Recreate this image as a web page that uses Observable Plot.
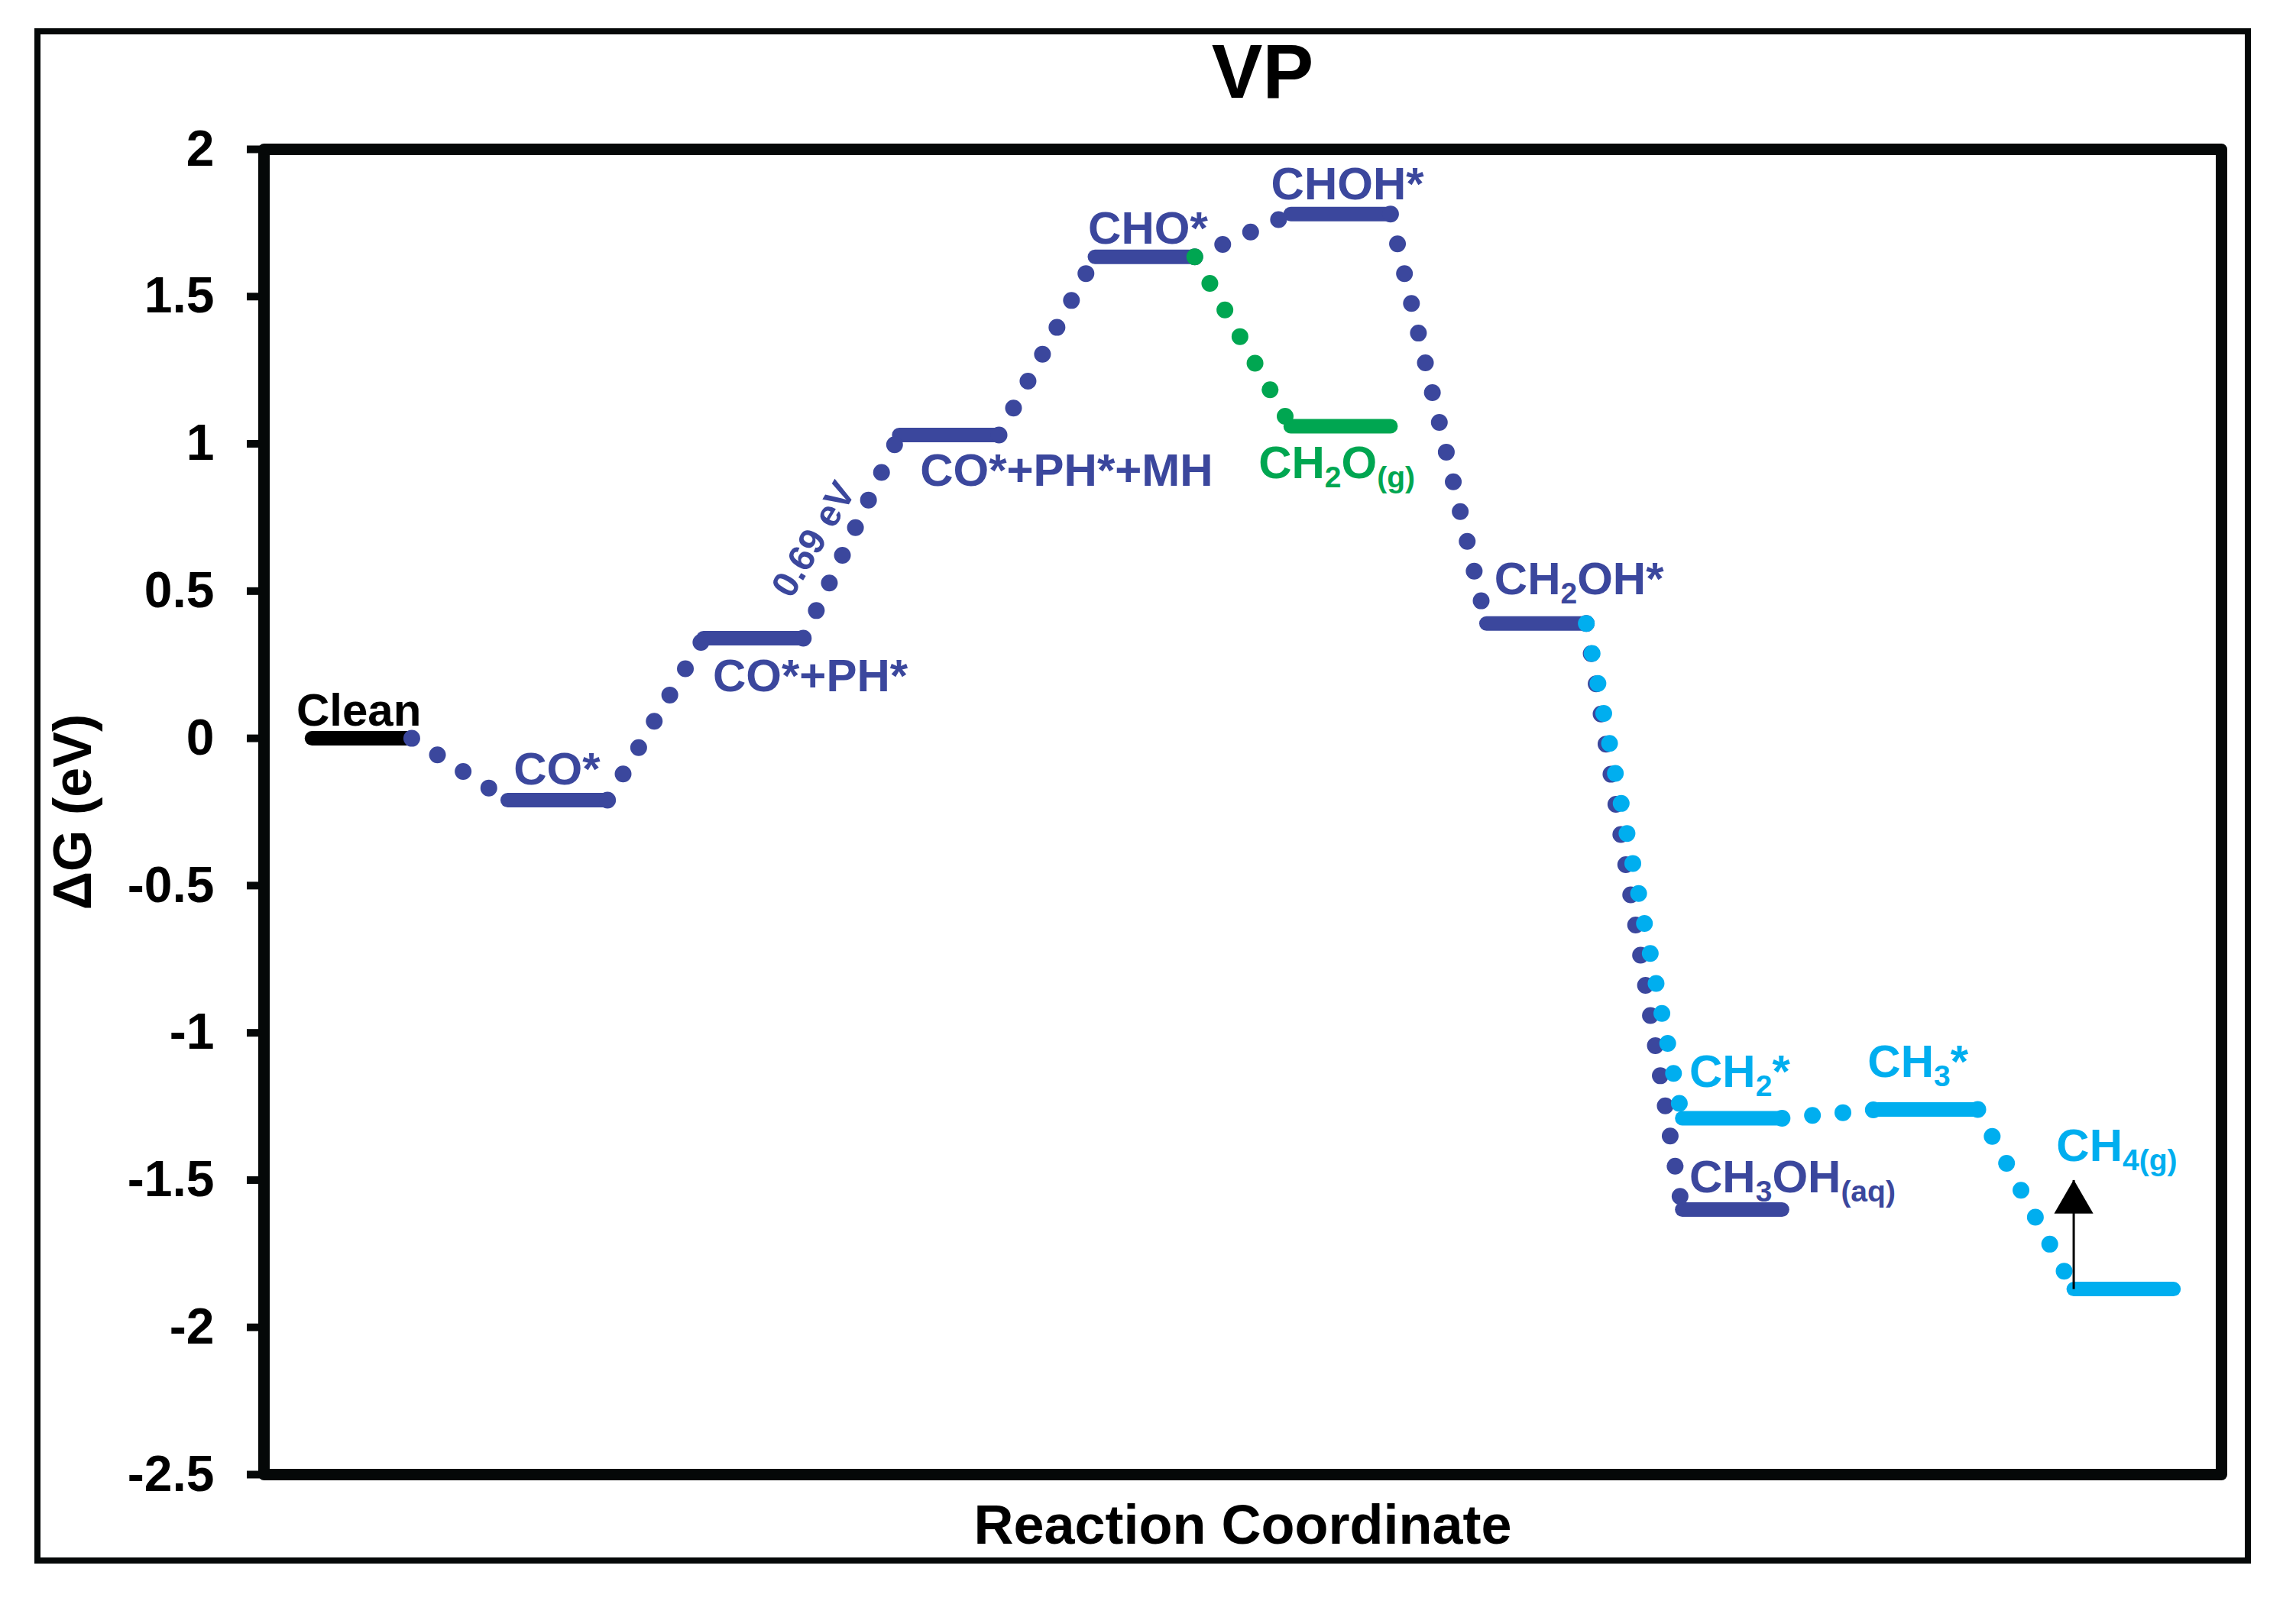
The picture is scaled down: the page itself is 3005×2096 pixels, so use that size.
<!DOCTYPE html>
<html>
<head>
<meta charset="utf-8">
<script src="https://cdn.jsdelivr.net/npm/d3@7"></script>
<script src="https://cdn.jsdelivr.net/npm/@observablehq/plot@0.6"></script>
<style>
html, body { margin: 0; padding: 0; background: #fff; }
#wrap { position: relative; width: 3005px; height: 2096px; overflow: hidden; font-family: "Liberation Sans", Arial, sans-serif; }
#title { height: 145px; box-sizing: border-box; padding-top: 36px; padding-left: 300px; text-align: center; font-size: 100px; font-weight: bold; line-height: normal; color: #000; }
#frame { position: absolute; left: 45px; top: 37px; width: 2901px; height: 2010px; border: 8px solid #050808; box-sizing: border-box; pointer-events: none; }
#chart svg { display: block; }
</style>
</head>
<body>
<div id="wrap">
  <div id="title">VP</div>
  <div id="chart"></div>
  <div id="frame"></div>
</div>
<script>
// ---------------- data ----------------
const steps      = ["Clean", "CO*", "CO*+PH*", "CO*+PH*+MH", "CHO*", "CHOH*", "CH2O(g)", "CH2OH*", "CH2*", "CH3OH(aq)", "CH3*", "CH4(g)"];
const stepIndex  = [0, 1, 2, 3, 4, 5, 5, 6, 7, 7, 8, 9];
const deltaG     = [0, -0.21, 0.34, 1.03, 1.635, 1.78, 1.06, 0.39, -1.29, -1.60, -1.26, -1.87];
const pathway    = ["start", "main", "main", "main", "main", "main", "formaldehyde", "main", "methane", "main", "methane", "methane"];
const labelText  = ["Clean", "CO*", "CO*+PH*", "CO*+PH*+MH", "CHO*", "CHOH*", "CH_{2}O_{(g)}", "CH_{2}OH*", "CH_{2}*", "CH_{3}OH_{(aq)}", "CH_{3}*", "CH_{4(g)}"];

const connFrom   = ["Clean", "CO*", "CO*+PH*", "CO*+PH*+MH", "CHO*", "CHO*", "CHOH*", "CH2OH*", "CH2OH*", "CH2*", "CH3*"];
const connTo     = ["CO*", "CO*+PH*", "CO*+PH*+MH", "CHO*", "CHOH*", "CH2O(g)", "CH2OH*", "CH3OH(aq)", "CH2*", "CH3*", "CH4(g)"];

const barrierConn = 2;            // CO*+PH* -> CO*+PH*+MH
const barrierText = "0.69 eV";

const arrowAt  = "CH4(g)";
const arrowTip = -1.5;

const yTicks      = [2, 1.5, 1, 0.5, 0, -0.5, -1, -1.5, -2, -2.5];
const yTickLabels = ["2", "1.5", "1", "0.5", "0", "-0.5", "-1", "-1.5", "-2", "-2.5"];

const titleText = "VP";
const xLabel = "Reaction Coordinate";
const yLabel = "\u0394G (eV)";

// ---------------- styles ----------------
const pathNames  = ["start", "main", "formaldehyde", "methane"];
const pathColors = ["#000000", "#3b479d", "#00a651", "#00aeef"];
const colorOf = p => pathColors[pathNames.indexOf(p)];
const halfW = 0.255;        // half length of a level bar, in step units
const labelFont = 60;
// [textAnchor, dx(px from bar centre), dy(px from bar to baseline)]
const labelStyle = {
  "Clean": ["middle", -4, -17],
  "CO*": ["middle", -1, -21],
  "CO*+PH*": ["start", -53, 69],
  "CO*+PH*+MH": ["start", -38, 67],
  "CHO*": ["middle", 4, -17],
  "CHOH*": ["middle", 9, -19],
  "CH2O(g)": ["middle", -5, 68],
  "CH2OH*": ["start", -55, -38],
  "CH2*": ["start", -56, -41],
  "CH3OH(aq)": ["start", -56, -23],
  "CH3*": ["middle", -13, -42],
  "CH4(g)": ["middle", -9, -168]
};

// ---------------- build ----------------
const levels = steps.map((name, i) => ({name, step: stepIndex[i], g: deltaG[i], path: pathway[i], label: labelText[i]}));
const byName = new Map(levels.map(d => [d.name, d]));
const conns = connFrom.map((f, i) => ({from: byName.get(f), to: byName.get(connTo[i])}));
const arrowLevel = byName.get(arrowAt);
const arrowData = [{x: arrowLevel.step - halfW, y1: arrowLevel.g, y2: arrowTip}];
const bc = conns[barrierConn];
const barrierData = [{x: (bc.from.step + halfW + bc.to.step - halfW) / 2, y: (bc.from.g + bc.to.g) / 2, text: barrierText}];

const labelMarks = levels.map(d => {
  const [anchor, dx, dy] = labelStyle[d.name];
  return Plot.text([d], {
    x: "step", y: "g", text: "label",
    textAnchor: anchor, lineAnchor: "bottom", dx, dy,
    fill: colorOf(d.path), fontSize: labelFont, fontWeight: "bold"
  });
});

const chart = Plot.plot({
  width: 3005,
  height: 1951,
  marginLeft: 345,
  marginRight: 98,
  marginTop: 50,
  marginBottom: 166,
  style: {fontFamily: "'Liberation Sans', Arial, sans-serif", background: "#fff", color: "#000"},
  x: {domain: [-0.5, 9.5], axis: null},
  y: {domain: [-2.5, 2], axis: null},
  color: {domain: pathNames, range: pathColors},
  marks: [
    Plot.axisY({
      ticks: yTicks,
      tickFormat: d => yTickLabels[yTicks.indexOf(d)],
      tickSize: 22, tickPadding: 43,
      stroke: "#050808", strokeWidth: 10,
      fontSize: 66, fontWeight: "bold", fill: "#000",
      label: null
    }),
    Plot.frame({stroke: "#050808", strokeWidth: 15, strokeLinejoin: "round"}),
    // energy levels
    Plot.link(levels, {
      x1: d => d.step - halfW, x2: d => d.step + halfW, y1: "g", y2: "g",
      stroke: "path", strokeWidth: 19, strokeLinecap: "round"
    }),
    // dotted connectors
    Plot.link(conns, {
      x1: d => d.from.step + halfW, y1: d => d.from.g,
      x2: d => d.to.step - halfW, y2: d => d.to.g,
      stroke: d => d.to.path, strokeWidth: 22, strokeDasharray: "0 40", strokeLinecap: "round"
    }),
    // barrier annotation
    Plot.text(barrierData, {
      x: "x", y: "y", text: "text", rotate: -59, dx: -49, dy: 4,
      fill: colorOf("main"), fontSize: 48, fontWeight: "bold"
    }),
    // arrow
    Plot.link(arrowData, {x1: "x", x2: "x", y1: "y1", y2: "y2", stroke: "#000", strokeWidth: 3}),
    Plot.dot(arrowData, {x: "x", y: "y2", symbol: "triangle", r: 19, fill: "#000", stroke: "none", dy: 29}),
    ...labelMarks,
    // axis titles
    Plot.text([yLabel], {frameAnchor: "left", textAnchor: "middle", lineAnchor: "middle", rotate: -90, dx: -249, fontSize: 70, fontWeight: "bold", fill: "#000"}),
    Plot.text([xLabel], {frameAnchor: "bottom", textAnchor: "middle", lineAnchor: "bottom", dy: 90, fontSize: 72, fontWeight: "bold", fill: "#000"})
  ]
});

document.getElementById("title").textContent = titleText;
document.getElementById("chart").appendChild(chart);

// subscripts: turn "_{...}" into lowered, smaller tspans
const NS = "http://www.w3.org/2000/svg";
chart.querySelectorAll("text").forEach(t => {
  const s = t.textContent;
  if (!s.includes("_{")) return;
  const parts = [];
  const re = /_\{([^}]*)\}/g;
  let last = 0, m;
  while ((m = re.exec(s))) {
    if (m.index > last) parts.push([s.slice(last, m.index), false]);
    parts.push([m[1], true]);
    last = re.lastIndex;
  }
  if (last < s.length) parts.push([s.slice(last), false]);
  t.textContent = "";
  const shift = Math.round(labelFont * 0.2);
  let cur = 0;
  for (const [txt, sub] of parts) {
    const ts = document.createElementNS(NS, "tspan");
    ts.textContent = txt;
    const target = sub ? shift : 0;
    if (target !== cur) { ts.setAttribute("dy", target - cur); cur = target; }
    if (sub) ts.setAttribute("font-size", Math.round(labelFont * 0.65));
    t.appendChild(ts);
  }
});
</script>
</body>
</html>
